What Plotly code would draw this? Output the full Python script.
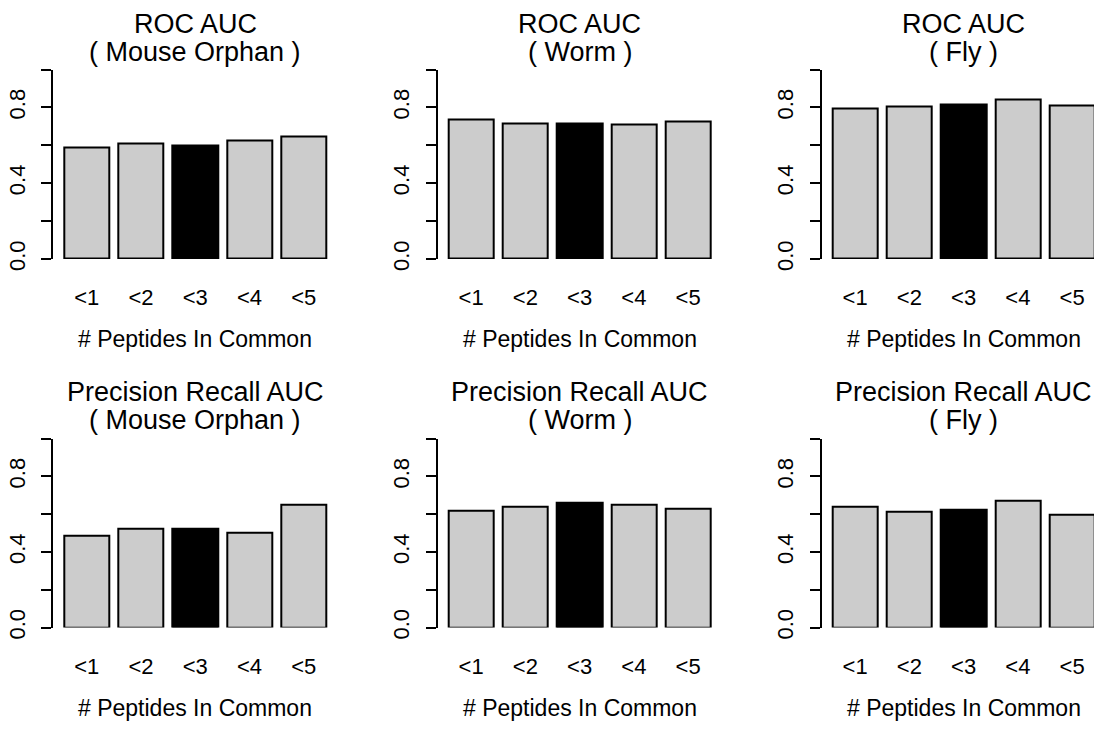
import plotly.graph_objects as go

# ---- data ----
categories = ["<1", "<2", "<3", "<4", "<5"]
roc_mouse = [0.587, 0.609, 0.599, 0.626, 0.645]
roc_worm = [0.734, 0.715, 0.715, 0.708, 0.725]
roc_fly = [0.794, 0.804, 0.815, 0.844, 0.811]
pr_mouse = [0.484, 0.523, 0.523, 0.502, 0.649]
pr_worm = [0.620, 0.641, 0.661, 0.649, 0.632]
pr_fly = [0.641, 0.611, 0.622, 0.670, 0.599]

metric_titles = ["ROC AUC", "Precision Recall AUC"]
dataset_names = ["( Mouse Orphan )", "( Worm )", "( Fly )"]
xlabel = "# Peptides In Common"
highlight_index = 2

panels = [[roc_mouse, roc_worm, roc_fly], [pr_mouse, pr_worm, pr_fly]]

# ---- layout geometry ----
W, H = 1094, 733
FONT = "Liberation Sans, Arial, Helvetica, sans-serif"
px_per_unit = 45.2
bar_w = 1.0
space = 0.2
centers = [space + i * (bar_w + space) + bar_w / 2 for i in range(len(categories))]
x_lo = space - 0.04 * (len(categories) * (bar_w + space))  # R-style 4% expansion
x_hi_full = len(categories) * (bar_w + space) + 0.04 * (len(categories) * (bar_w + space))
col_axis_px = [53.3, 437.7, 821.7]
row_y0_px = [263.3, 638.0]
row_y1_px = [70.7, 446.0]
title1_px = [24.0, 399.0]
title2_px = [52.5, 427.0]
xlab_px = [345.0, 720.0]

fig = go.Figure()
layout = dict(
    width=W, height=H,
    margin=dict(l=0, r=0, t=0, b=0),
    paper_bgcolor="white", plot_bgcolor="white",
    showlegend=False,
    font=dict(family=FONT, color="black"),
    bargap=0,
)
annotations = []

k = 0
for r in range(2):
    for c in range(3):
        k += 1
        xa = "x" if k == 1 else f"x{k}"
        ya = "y" if k == 1 else f"y{k}"
        vals = panels[r][c]
        colors = ["black" if i == highlight_index else "#cccccc" for i in range(len(vals))]
        fig.add_trace(go.Bar(
            x=centers, y=vals, width=bar_w,
            marker=dict(color=colors, line=dict(color="black", width=2)),
            xaxis=xa, yaxis=ya, hoverinfo="skip",
        ))
        left_px = col_axis_px[c]
        right_px = left_px + (x_hi_full - x_lo) * px_per_unit
        x_hi = x_hi_full
        if right_px > W:
            x_hi = x_lo + (W - left_px) / px_per_unit
            right_px = W
        xdom = [left_px / W, right_px / W]
        ydom = [1 - row_y0_px[r] / H, 1 - row_y1_px[r] / H]
        layout["xaxis" if k == 1 else f"xaxis{k}"] = dict(
            domain=xdom, range=[x_lo, x_hi], anchor=ya,
            showline=False, showgrid=False, zeroline=False,
            ticks="", tickvals=centers, ticktext=categories,
            tickfont=dict(size=22, family=FONT, color="black"),
            ticklabelstandoff=23,
        )
        layout["yaxis" if k == 1 else f"yaxis{k}"] = dict(
            domain=ydom, range=[0, 1], anchor=xa,
            showline=True, linecolor="black", linewidth=2,
            showgrid=False, zeroline=False,
            ticks="outside", ticklen=10, tickwidth=2, tickcolor="black",
            tickvals=[0, 0.2, 0.4, 0.6, 0.8, 1.0],
            ticktext=["0.0", "", "0.4", "", "0.8", ""],
            tickangle=-90,
            tickfont=dict(size=22, family=FONT, color="black"),
            ticklabelstandoff=8,
        )
        xc = (left_px + (col_axis_px[c] + (x_hi_full - x_lo) * px_per_unit)) / 2 / W
        annotations.append(dict(
            text=metric_titles[r], x=xc, y=1 - title1_px[r] / H, xref="paper", yref="paper",
            xanchor="center", yanchor="middle", showarrow=False,
            font=dict(size=27, family=FONT, color="black"),
        ))
        annotations.append(dict(
            text=dataset_names[c], x=xc, y=1 - title2_px[r] / H, xref="paper", yref="paper",
            xanchor="center", yanchor="middle", showarrow=False,
            font=dict(size=27, family=FONT, color="black"),
        ))
        annotations.append(dict(
            text=xlabel, x=xc, y=1 - xlab_px[r] / H, xref="paper", yref="paper",
            xanchor="center", yanchor="middle", showarrow=False,
            font=dict(size=23, family=FONT, color="black"),
        ))

layout["annotations"] = annotations
fig.update_layout(**layout)
fig.write_html(
    "out.html",
    config={"displayModeBar": False},
    post_script="document.body.style.margin='0';document.body.style.overflow='hidden';",
)
